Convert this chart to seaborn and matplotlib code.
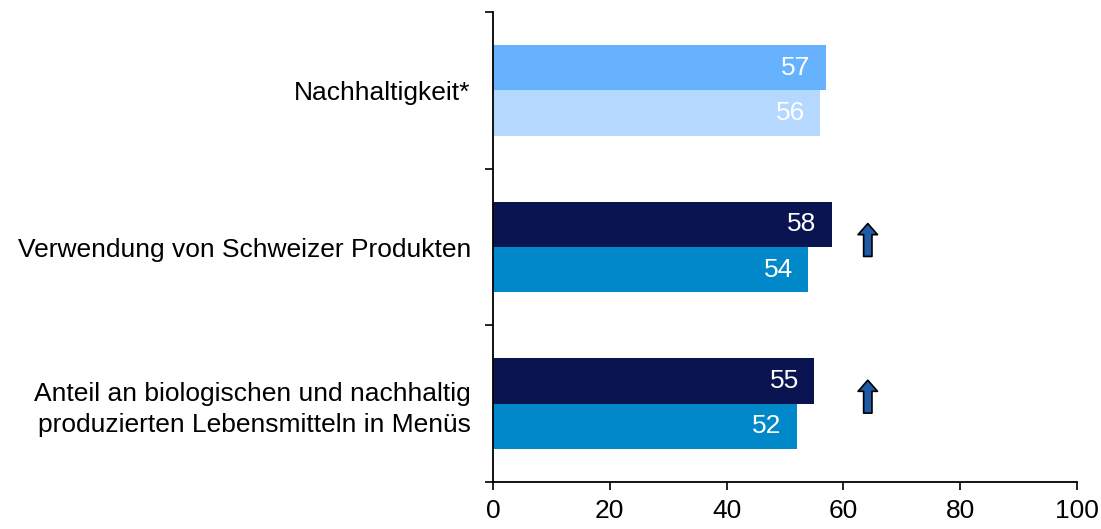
import pandas as pd
import matplotlib
matplotlib.use("Agg")
import matplotlib.pyplot as plt
import seaborn as sns

# data
categories = [
    "Nachhaltigkeit*",
    "Verwendung von Schweizer Produkten",
    "Anteil an biologischen und nachhaltig\nproduzierten Lebensmitteln in Menüs",
]
series = ["aktuell", "vorher"]
values_current = [57, 58, 55]
values_previous = [56, 54, 52]
arrow_up = [False, True, True]

# colours per category (top bar, bottom bar)
bar_colors = [
    ("#66b2ff", "#b5d8ff"),
    ("#0a1450", "#0088c8"),
    ("#0a1450", "#0088c8"),
]

df = pd.DataFrame({
    "Kategorie": categories * 2,
    "Serie": [series[0]] * 3 + [series[1]] * 3,
    "Wert": values_current + values_previous,
})

sns.set_style("white")
plt.rcParams["font.family"] = ["Liberation Sans", "DejaVu Sans"]
plt.rcParams["text.color"] = "black"
plt.rcParams["xtick.color"] = "black"
plt.rcParams["ytick.color"] = "black"

fig = plt.figure(figsize=(11.01, 5.29), dpi=100)
ax = fig.add_axes([0.4478, 0.0888, 0.5302, 0.8884])

sns.barplot(data=df, y="Kategorie", x="Wert", hue="Serie", order=categories,
            hue_order=series, orient="h", width=0.58, dodge=True,
            legend=False, ax=ax)

# recolour bars: patches come hue by hue, category by category
bars = [p for p in ax.patches]
for h in range(2):
    for c in range(3):
        p = bars[h * 3 + c]
        p.set_facecolor(bar_colors[c][h])
        p.set_edgecolor("none")
        val = p.get_width()
        yc = p.get_y() + p.get_height() / 2
        ax.text(val - 2.6, yc, f"{val:.0f}", ha="right", va="center",
                color="white", fontsize=19)

# trend arrows
for c, up in enumerate(arrow_up):
    if up:
        ax.annotate("", xy=(64.2, c - 0.15), xytext=(64.2, c + 0.06),
                    arrowprops=dict(arrowstyle="simple,head_width=0.7,head_length=0.4,tail_width=0.3",
                                    fc="#1f5aa6", ec="black", lw=1.2,
                                    mutation_scale=20, shrinkA=0, shrinkB=0))

ax.set_xlim(0, 100)
ax.set_ylim(2.5, -0.5)
ax.set_xticks([0, 20, 40, 60, 80, 100])
ax.set_xlabel("")
ax.set_ylabel("")

ax.set_yticks([-0.5, 0.5, 1.5, 2.5], minor=True)
ax.tick_params(axis="y", which="major", length=0, pad=16, labelsize=19, labelcolor="black")
ax.tick_params(axis="y", which="minor", length=6, width=1.2, color="black", direction="out", left=True)
ax.tick_params(axis="x", which="major", length=6, width=1.2, color="black", direction="out",
               bottom=True, labelsize=19, labelcolor="black", pad=6)
for lbl in ax.get_yticklabels():
    lbl.set_ha("right")
    lbl.set_multialignment("right")
    lbl.set_linespacing(1.35)

sns.despine(ax=ax, top=True, right=True)
for s in ["left", "bottom"]:
    ax.spines[s].set_color("black")
    ax.spines[s].set_linewidth(1.3)

fig.savefig("out.png", dpi=100)
